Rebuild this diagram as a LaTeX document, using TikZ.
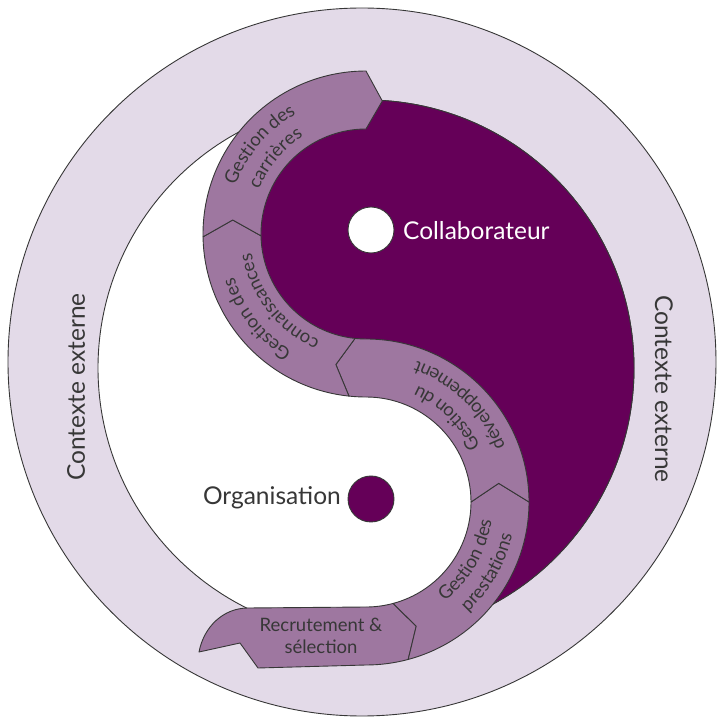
\documentclass[tikz,border=0pt]{standalone}
\usepackage{fontspec}
\setmainfont{Lato}
\usetikzlibrary{calc,decorations.text}

\definecolor{ringfill}{RGB}{227,218,232}
\definecolor{bandfill}{RGB}{158,119,160}
\definecolor{yinfill}{RGB}{101,0,88}
\definecolor{ink}{RGB}{55,55,55}
\newcommand{\bandlabel}{\color{ink}\fontsize{18.5}{22}\selectfont}

\begin{document}
\begin{tikzpicture}[x=1pt,y=1pt,
  outline/.style={draw=ink, line width=0.9pt, line join=round},
  bandseg/.style={outline, fill=bandfill},
  arclabel/.style={decorate, decoration={text along path, text align=center, text={#1}}},
  biglabel/.style={font=\fontsize{24.5}{28}\selectfont, inner sep=0pt}
]
\useasboundingbox (0,0) rectangle (716,724);

% centres: outer ring, yin-yang disc, upper and lower half-discs
\coordinate (O) at (362,362);
\coordinate (C) at (366,356);
\coordinate (U) at (366,490);
\coordinate (L) at (366,222);

% outer context ring and inner disc
\draw[outline, fill=ringfill] (O) circle[radius=354];
\draw[outline, fill=white] (C) circle[radius=268];

% dark half of the yin-yang
\draw[outline, fill=yinfill] (366,624)
  arc[start angle=90, end angle=-90, radius=268]
  arc[start angle=-90, end angle=90, radius=134]
  arc[start angle=270, end angle=90, radius=134] -- cycle;

% process band, tail first
\draw[bandseg] (366,117) arc[start angle=-90, end angle=-75, radius=105]
  -- ($(L)+(-68:134)$) -- ($(L)+(-75:163)$)
  arc[start angle=-75, end angle=-90, radius=163]
  -- (258,56) -- (240,81) -- (199,72)
  .. controls (204,98) and (224,116) .. (248,116) -- cycle;

\draw[bandseg] ($(L)+(-75:163)$) -- ($(L)+(-68:134)$) -- ($(L)+(-75:105)$)
  arc[start angle=-75, end angle=0, radius=105]
  -- ($(L)+(8:134)$) -- ($(L)+(0:163)$)
  arc[start angle=0, end angle=-75, radius=163] -- cycle;

\draw[bandseg] ($(L)+(0:163)$) -- ($(L)+(8:134)$) -- ($(L)+(0:105)$)
  arc[start angle=0, end angle=90, radius=105]
  arc[start angle=270, end angle=264, radius=163]
  -- ($(U)+(257:134)$) -- ($(U)+(264:105)$)
  arc[start angle=264, end angle=270, radius=105]
  arc[start angle=90, end angle=0, radius=163] -- cycle;

\draw[bandseg] ($(U)+(264:163)$) -- ($(U)+(257:134)$) -- ($(U)+(264:105)$)
  arc[start angle=264, end angle=181, radius=105]
  -- ($(U)+(174:134)$) -- ($(U)+(181:163)$)
  arc[start angle=181, end angle=264, radius=163] -- cycle;

\draw[bandseg] ($(U)+(181:163)$) -- ($(U)+(174:134)$) -- ($(U)+(181:105)$)
  arc[start angle=181, end angle=90, radius=105]
  -- ($(U)+(83:134)$) -- ($(U)+(90:163)$)
  arc[start angle=90, end angle=181, radius=163] -- cycle;

% the two eyes
\draw[outline, fill=white] (371,494) circle[radius=23];
\draw[outline, fill=yinfill] (371,225) circle[radius=23];

% labels following the band
\path[arclabel={|\bandlabel|Gestion des}] ($(U)+(181:139)$) arc[start angle=181, end angle=99, radius=139];
\path[arclabel={|\bandlabel|carrières}] ($(U)+(181:116)$) arc[start angle=181, end angle=99, radius=116];

\path[arclabel={|\bandlabel|Gestion des}] ($(U)+(259:139)$) arc[start angle=259, end angle=177, radius=139];
\path[arclabel={|\bandlabel|connaissances}] ($(U)+(259:116)$) arc[start angle=259, end angle=177, radius=116];

\path[arclabel={|\bandlabel|Gestion du}] ($(L)+(5:127)$) arc[start angle=5, end angle=87, radius=127];
\path[arclabel={|\bandlabel|développement}] ($(L)+(5:150)$) arc[start angle=5, end angle=87, radius=150];

\path[arclabel={|\bandlabel|Gestion des}] ($(L)+(-71:127)$) arc[start angle=-71, end angle=11, radius=127];
\path[arclabel={|\bandlabel|prestations}] ($(L)+(-71:150)$) arc[start angle=-71, end angle=11, radius=150];

\node[name=recr, align=center, text=ink, font=\fontsize{18.5}{22}\selectfont, inner sep=0pt] at (321,88) {Recrutement \&\\sélection};

% main labels
\node[name=collab, biglabel, text=white, anchor=west] at (403,493) {Collaborateur};
\node[name=orga, biglabel, text=ink, anchor=east] at (341,226) {Organisation};
\node[name=ctxl, biglabel, text=ink, rotate=90] at (76,337) {Contexte externe};
\node[name=ctxr, biglabel, text=ink, rotate=-90] at (664,335) {Contexte externe};
\end{tikzpicture}
\end{document}
